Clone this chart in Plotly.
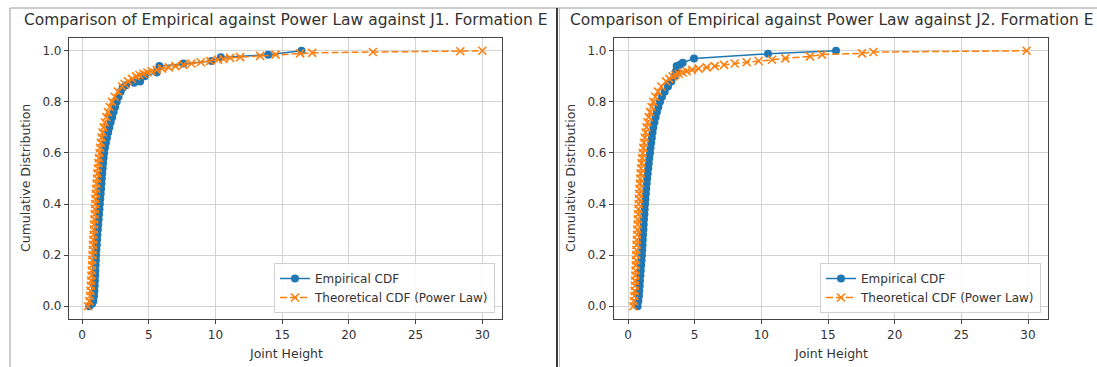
import plotly.graph_objects as go

W, H = 1097, 367

# ---------------- data ----------------
j1_emp_x = [0.55, 0.75, 0.85, 0.90, 0.93, 0.95, 0.97, 0.99, 1.00, 1.02, 1.04, 1.06, 1.08, 1.11, 1.13,
            1.16, 1.19, 1.22, 1.25, 1.28, 1.31, 1.34, 1.37, 1.40, 1.43, 1.46, 1.49, 1.52, 1.55, 1.58,
            1.62, 1.66, 1.72, 1.79, 1.87, 1.96, 2.05, 2.15, 2.26, 2.37, 2.48, 2.60, 2.74, 2.90, 3.05,
            3.30, 3.90, 4.35, 4.70, 5.60, 5.80, 7.60, 9.70, 10.40, 13.95, 16.45]
j1_emp_y = [0.00, 0.01, 0.02, 0.04, 0.06, 0.08, 0.10, 0.12, 0.14, 0.16, 0.18, 0.20, 0.22, 0.24, 0.26,
            0.28, 0.30, 0.32, 0.34, 0.36, 0.38, 0.40, 0.42, 0.44, 0.46, 0.48, 0.50, 0.52, 0.54, 0.56,
            0.58, 0.60, 0.62, 0.64, 0.66, 0.68, 0.70, 0.72, 0.74, 0.76, 0.78, 0.80, 0.82, 0.84, 0.855,
            0.865, 0.875, 0.88, 0.90, 0.915, 0.94, 0.95, 0.96, 0.975, 0.984, 1.00]

j1_pl_x = [0.45, 0.55, 0.60, 0.64, 0.67, 0.69, 0.71, 0.73, 0.75, 0.77, 0.79, 0.81, 0.83, 0.85, 0.87,
           0.89, 0.91, 0.93, 0.95, 0.97, 0.99, 1.01, 1.03, 1.06, 1.09, 1.12, 1.15, 1.19, 1.23, 1.27,
           1.31, 1.36, 1.41, 1.47, 1.54, 1.62, 1.71, 1.82, 1.94, 2.08, 2.25, 2.45, 2.70, 3.00, 3.20,
           3.45, 3.75, 4.05, 4.30, 4.60, 4.90, 5.20, 5.60, 6.00, 6.50, 7.00, 7.60, 8.20, 8.90, 9.60,
           10.20, 10.60, 11.10, 11.85, 13.35, 14.50, 16.35, 17.25, 21.80, 28.35, 30.00]
j1_pl_y = [0.00, 0.02, 0.04, 0.06, 0.08, 0.10, 0.12, 0.14, 0.16, 0.18, 0.20, 0.22, 0.24, 0.26, 0.28,
           0.30, 0.32, 0.34, 0.36, 0.38, 0.40, 0.42, 0.44, 0.46, 0.48, 0.50, 0.52, 0.54, 0.56, 0.58,
           0.60, 0.62, 0.64, 0.66, 0.68, 0.70, 0.72, 0.74, 0.76, 0.78, 0.80, 0.82, 0.84, 0.86, 0.87,
           0.88, 0.89, 0.90, 0.905, 0.91, 0.915, 0.92, 0.925, 0.93, 0.935, 0.94, 0.945, 0.95, 0.955, 0.96,
           0.965, 0.968, 0.972, 0.975, 0.98, 0.985, 0.99, 0.992, 0.995, 0.998, 1.00]

j2_emp_x = [0.72, 0.78, 0.82, 0.85, 0.88, 0.90, 0.93, 0.96, 0.99, 1.02, 1.05, 1.07, 1.09, 1.11, 1.13,
            1.16, 1.18, 1.20, 1.23, 1.25, 1.28, 1.31, 1.34, 1.37, 1.40, 1.44, 1.48, 1.52, 1.56, 1.60,
            1.65, 1.69, 1.74, 1.79, 1.84, 1.90, 1.98, 2.07, 2.17, 2.28, 2.40, 2.55, 2.75, 3.00, 3.25,
            3.50, 3.60, 3.65, 3.90, 4.10, 4.95, 10.50, 15.60]
j2_emp_y = [0.00, 0.02, 0.04, 0.06, 0.08, 0.10, 0.12, 0.14, 0.16, 0.18, 0.20, 0.22, 0.24, 0.26, 0.28,
            0.30, 0.32, 0.34, 0.36, 0.38, 0.40, 0.42, 0.44, 0.46, 0.48, 0.50, 0.52, 0.54, 0.56, 0.58,
            0.60, 0.62, 0.64, 0.66, 0.68, 0.70, 0.72, 0.74, 0.76, 0.78, 0.80, 0.82, 0.84, 0.86, 0.88,
            0.90, 0.92, 0.94, 0.945, 0.953, 0.97, 0.988, 1.00]

j2_pl_x = [0.40, 0.45, 0.48, 0.50, 0.52, 0.54, 0.55, 0.57, 0.58, 0.60, 0.61, 0.63, 0.64, 0.66, 0.68,
           0.70, 0.72, 0.74, 0.76, 0.78, 0.80, 0.82, 0.84, 0.86, 0.89, 0.92, 0.95, 0.98, 1.02, 1.06,
           1.10, 1.15, 1.20, 1.26, 1.32, 1.39, 1.47, 1.56, 1.66, 1.77, 1.90, 2.05, 2.25, 2.50, 2.85,
           3.10, 3.35, 3.55, 3.80, 4.10, 4.40, 4.80, 5.30, 5.90, 6.50, 7.20, 8.00, 8.90, 9.80, 10.80,
           11.80, 13.65, 14.55, 17.55, 18.40, 29.90]
j2_pl_y = [0.00, 0.02, 0.04, 0.06, 0.08, 0.10, 0.12, 0.14, 0.16, 0.18, 0.20, 0.22, 0.24, 0.26, 0.28,
           0.30, 0.32, 0.34, 0.36, 0.38, 0.40, 0.42, 0.44, 0.46, 0.48, 0.50, 0.52, 0.54, 0.56, 0.58,
           0.60, 0.62, 0.64, 0.66, 0.68, 0.70, 0.72, 0.74, 0.76, 0.78, 0.80, 0.82, 0.84, 0.86, 0.88,
           0.89, 0.90, 0.905, 0.91, 0.915, 0.92, 0.925, 0.93, 0.935, 0.94, 0.945, 0.95, 0.955, 0.96, 0.965,
           0.97, 0.978, 0.985, 0.99, 0.995, 1.00]

x_ticks = [0, 5, 10, 15, 20, 25, 30]
y_ticks = [0.0, 0.2, 0.4, 0.6, 0.8, 1.0]
titles = ["Comparison of Empirical against Power Law against J1. Formation E",
          "Comparison of Empirical against Power Law against J2. Formation E"]
series_names = ["Empirical CDF", "Theoretical CDF (Power Law)"]
x_label = "Joint Height"
y_label = "Cumulative Distribution"

BLUE = "#1f77b4"
ORANGE = "#ff7f0e"
TXT = "#333333"
FONT = "DejaVu Sans"


def px(x):
    return x / W


def py(y):
    return 1 - y / H


fig = go.Figure()

panels = [
    (j1_emp_x, j1_emp_y, j1_pl_x, j1_pl_y, "x", "y", "legend"),
    (j2_emp_x, j2_emp_y, j2_pl_x, j2_pl_y, "x2", "y2", "legend2"),
]
for ex, ey, tx, ty, xa, ya, lg in panels:
    fig.add_trace(go.Scatter(
        x=ex, y=ey, mode="lines+markers", name=series_names[0],
        line=dict(color=BLUE, width=1.5),
        marker=dict(symbol="circle", size=8, color=BLUE),
        xaxis=xa, yaxis=ya, legend=lg))
    fig.add_trace(go.Scatter(
        x=tx, y=ty, mode="lines+markers", name=series_names[1],
        line=dict(color=ORANGE, width=1.5, dash="7px,3px"),
        marker=dict(symbol="x-thin", size=8, color=ORANGE,
                    line=dict(color=ORANGE, width=1.6)),
        xaxis=xa, yaxis=ya, legend=lg))

axis_common = dict(
    showline=True, mirror=True, linecolor="#444444", linewidth=1.2,
    showgrid=True, gridcolor="#d3d3d3", gridwidth=1, zeroline=False,
    ticks="outside", ticklen=4, tickcolor="#444444",
    tickfont=dict(family=FONT, size=12, color=TXT),
)

ydom = [py(319), py(38)]
legend_common = dict(y=py(313), yanchor="bottom",
                     bgcolor="rgba(255,255,255,0.85)", bordercolor="#d0d0d0", borderwidth=1,
                     font=dict(family=FONT, size=12, color=TXT), tracegroupgap=0)
fig.update_layout(
    width=W, height=H,
    margin=dict(l=0, r=0, t=0, b=0),
    paper_bgcolor="white", plot_bgcolor="white",
    font=dict(family=FONT, color=TXT),
    xaxis=dict(domain=[px(69), px(502)], range=[-0.975, 31.475], tickvals=x_ticks,
               anchor="y", **axis_common),
    yaxis=dict(domain=ydom, range=[-0.05, 1.05], tickvals=y_ticks, tickformat=".1f",
               anchor="x", **axis_common),
    xaxis2=dict(domain=[px(614), px(1048)], range=[-1.05, 31.5], tickvals=x_ticks,
                anchor="y2", **axis_common),
    yaxis2=dict(domain=ydom, range=[-0.05, 1.05], tickvals=y_ticks, tickformat=".1f",
                anchor="x2", **axis_common),
    legend=dict(x=px(495), xanchor="right", **legend_common),
    legend2=dict(x=px(1041), xanchor="right", **legend_common),
    showlegend=True,
)

# titles and axis labels
centers = [285.5, 831]
ylabel_x = [25, 570]
for i in range(2):
    fig.add_annotation(text=titles[i], xref="paper", yref="paper", x=px(centers[i]), y=py(20),
                       xanchor="center", yanchor="middle", showarrow=False,
                       font=dict(family=FONT, size=15.5, color=TXT))
    fig.add_annotation(text=x_label, xref="paper", yref="paper", x=px(centers[i]), y=py(353),
                       xanchor="center", yanchor="middle", showarrow=False,
                       font=dict(family=FONT, size=12.5, color=TXT))
    fig.add_annotation(text=y_label, xref="paper", yref="paper", x=px(ylabel_x[i]), y=py(178),
                       xanchor="center", yanchor="middle", showarrow=False, textangle=-90,
                       font=dict(family=FONT, size=12.5, color=TXT))

# screenshot frames
fig.add_shape(type="line", xref="paper", yref="paper", x0=px(10), x1=px(10), y0=0, y1=py(8),
              line=dict(color="#9a9a9a", width=1))
fig.add_shape(type="line", xref="paper", yref="paper", x0=px(10), x1=1, y0=py(8), y1=py(8),
              line=dict(color="#9a9a9a", width=1))
fig.add_shape(type="line", xref="paper", yref="paper", x0=px(557), x1=px(557), y0=0, y1=py(8),
              line=dict(color="#3a3a3a", width=2))
fig.add_shape(type="line", xref="paper", yref="paper", x0=px(559.5), x1=px(559.5), y0=0, y1=py(8),
              line=dict(color="#bbbbbb", width=1))

fig.write_html("out.html")
